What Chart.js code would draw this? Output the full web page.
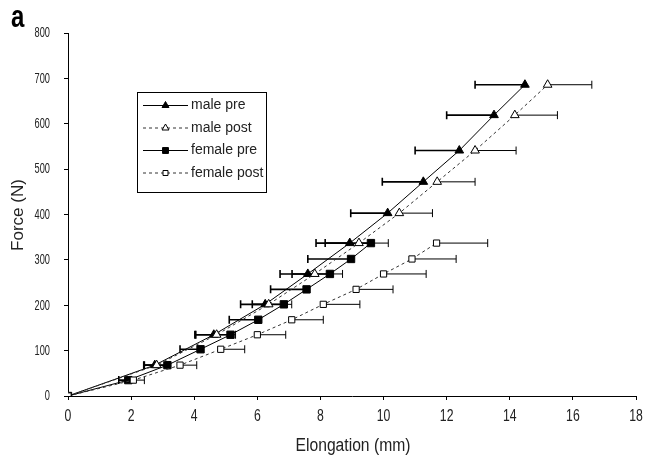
<!DOCTYPE html>
<html><head><meta charset="utf-8">
<script src="https://cdn.jsdelivr.net/npm/chart.js@4.4.0/dist/chart.umd.min.js"></script>
<style>html,body{margin:0;padding:0;background:#fff;}#wrap{width:650px;height:462px;}</style>
</head><body><div id="wrap"><canvas id="c" width="650" height="462"></canvas></div>
<script>
// ---- data ----
const xTicks = [0, 2, 4, 6, 8, 10, 12, 14, 16, 18];
const yTicks = [0, 100, 200, 300, 400, 500, 600, 700, 800];
const seriesNames = ["male pre", "male post", "female pre", "female post"];
const maleForce = [0, 68, 135, 202, 269, 337, 403, 472, 541, 619, 686];
const malePreElong = [0, 2.75, 4.62, 6.25, 7.6, 8.93, 10.13, 11.26, 12.4, 13.5, 14.48];
const malePreSD = [0, 0.35, 0.6, 0.78, 0.88, 1.07, 1.17, 1.3, 1.4, 1.5, 1.58];
const malePostElong = [0, 2.81, 4.71, 6.36, 7.82, 9.22, 10.5, 11.7, 12.9, 14.16, 15.2];
const malePostSD = [0, 0.4, 0.6, 0.73, 0.88, 0.93, 1.05, 1.2, 1.3, 1.35, 1.4];
const femaleForce = [0, 35, 68, 103, 135, 168, 202, 235, 269, 302, 337];
const femalePreElong = [0, 1.91, 3.15, 4.2, 5.15, 6.03, 6.84, 7.56, 8.3, 8.97, 9.6];
const femalePreSD = [0, 0.3, 0.73, 0.65, 1.1, 0.92, 1.0, 1.14, 1.2, 1.37, 1.45];
const femalePostElong = [0, 2.07, 3.55, 4.84, 6.0, 7.09, 8.09, 9.13, 10.0, 10.9, 11.68];
const femalePostSD = [0, 0.35, 0.53, 0.76, 0.9, 1.0, 1.16, 1.17, 1.35, 1.4, 1.62];

const FONT = "'Liberation Sans', Arial, sans-serif";

function pts(xs, ys) { return xs.map((v, i) => ({ x: v, y: ys[i] })); }

const datasets = [
  { label: seriesNames[0], data: pts(malePreElong, maleForce), sd: malePreSD, dir: -1,
    borderColor: '#000', borderWidth: 1, pointStyle: 'triangle', pointRadius: 5,
    pointBackgroundColor: '#000', pointBorderColor: '#000', pointBorderWidth: 1, order: 4, capW: 1.6 },
  { label: seriesNames[1], data: pts(malePostElong, maleForce), sd: malePostSD, dir: 1,
    borderColor: '#333', borderWidth: 1, borderDash: [3, 3], pointStyle: 'triangle', pointRadius: 5,
    pointBackgroundColor: '#fff', pointBorderColor: '#000', pointBorderWidth: 1, order: 2, capW: 1 },
  { label: seriesNames[2], data: pts(femalePreElong, femaleForce), sd: femalePreSD, dir: -1,
    borderColor: '#000', borderWidth: 1, pointStyle: 'rect', pointRadius: 5.2,
    pointBackgroundColor: '#000', pointBorderColor: '#000', pointBorderWidth: 1, order: 3, capW: 1.6 },
  { label: seriesNames[3], data: pts(femalePostElong, femaleForce), sd: femalePostSD, dir: 1,
    borderColor: '#333', borderWidth: 1, borderDash: [3, 3], pointStyle: 'rect', pointRadius: 4.4,
    pointBackgroundColor: '#fff', pointBorderColor: '#000', pointBorderWidth: 1, order: 1, capW: 1 }
];
datasets.forEach(d => { d.showLine = true; d.tension = 0; d.fill = false; });

const errorBars = {
  id: 'errorBars',
  beforeDatasetsDraw(chart) {
    const ctx = chart.ctx, xs = chart.scales.x, ys = chart.scales.y;
    ctx.save();
    chart.data.datasets.forEach(d => {
      ctx.strokeStyle = '#000';
      ctx.lineWidth = d.capW;
      d.data.forEach((p, i) => {
        const s = d.sd[i];
        if (!s) return;
        const x0 = xs.getPixelForValue(p.x), x1 = xs.getPixelForValue(p.x + d.dir * s);
        const y = ys.getPixelForValue(p.y);
        ctx.beginPath();
        ctx.moveTo(x0, y); ctx.lineTo(x1, y);
        ctx.moveTo(x1, y - 4); ctx.lineTo(x1, y + 4);
        ctx.stroke();
      });
    });
    ctx.restore();
  }
};

// axis tick labels, drawn at the library's tick positions in a condensed style
const tickLabels = {
  id: 'tickLabels',
  afterDraw(chart) {
    const ctx = chart.ctx, xs = chart.scales.x, ys = chart.scales.y;
    ctx.save();
    ctx.fillStyle = '#222';
    ctx.textBaseline = 'middle';
    ctx.font = "17px " + FONT;
    ctx.textAlign = 'center';
    xs.ticks.forEach(t => {
      const px = xs.getPixelForValue(t.value);
      ctx.save(); ctx.translate(px, xs.top + 20.5); ctx.scale(0.72, 1);
      ctx.fillText(String(t.value), 0, 0); ctx.restore();
    });
    ctx.font = "14px " + FONT;
    ctx.textAlign = 'right';
    ys.ticks.forEach(t => {
      const py = ys.getPixelForValue(t.value);
      ctx.save(); ctx.translate(ys.right - 18, py + 0.5); ctx.scale(0.66, 1);
      ctx.fillText(String(t.value), 0, 0); ctx.restore();
    });
    ctx.restore();
  }
};

const decor = {
  id: 'decor',
  afterDraw(chart) {
    const ctx = chart.ctx;
    ctx.save();
    ctx.fillStyle = '#000';
    ctx.font = "bold 32px " + FONT;
    ctx.textBaseline = 'alphabetic';
    ctx.save(); ctx.translate(11, 27); ctx.scale(0.75, 1); ctx.fillText('a', 0, 0); ctx.restore();
    ctx.fillStyle = '#222';
    ctx.font = "18px " + FONT;
    ctx.textAlign = 'center';
    ctx.textBaseline = 'middle';
    ctx.save(); ctx.translate(353, 446); ctx.scale(0.87, 1);
    ctx.fillText('Elongation (mm)', 0, 0); ctx.restore();
    ctx.font = "17px " + FONT;
    ctx.save();
    ctx.translate(18, 215);
    ctx.rotate(-Math.PI / 2);
    ctx.fillText('Force (N)', 0, 0);
    ctx.restore();
    // legend
    const bx = 137.5, by = 92.5, bw = 129, bh = 100;
    ctx.strokeStyle = '#000'; ctx.lineWidth = 1;
    ctx.strokeRect(bx, by, bw, bh);
    const rows = [105.5, 128, 150.5, 173];
    ctx.font = "14px " + FONT;
    ctx.textAlign = 'left';
    chart.data.datasets.forEach((d, i) => {
      const y = rows[i];
      ctx.save();
      ctx.strokeStyle = d.borderColor; ctx.lineWidth = 1;
      ctx.setLineDash(d.borderDash || []);
      ctx.beginPath(); ctx.moveTo(143, y); ctx.lineTo(188, y); ctx.stroke();
      ctx.restore();
      ctx.save();
      ctx.fillStyle = d.pointBackgroundColor; ctx.strokeStyle = '#000'; ctx.lineWidth = 1;
      Chart.helpers.drawPoint(ctx, {
        pointStyle: d.pointStyle, radius: d.pointRadius * 0.8, borderWidth: 1, rotation: 0
      }, 165.5, y);
      ctx.restore();
      ctx.fillStyle = '#222';
      ctx.fillText(d.label, 191, y);
    });
    ctx.restore();
  }
};

new Chart(document.getElementById('c'), {
  type: 'scatter',
  data: { datasets },
  options: {
    responsive: false, animation: false, devicePixelRatio: 1,
    layout: { padding: { left: 0, right: 14, top: 33, bottom: 0 } },
    plugins: { legend: { display: false }, tooltip: { enabled: false } },
    scales: {
      x: {
        type: 'linear', min: 0, max: 18,
        afterBuildTicks: s => { s.ticks = xTicks.map(v => ({ value: v })); },
        afterFit: s => { s.height = 66; },
        ticks: { display: false },
        grid: { drawOnChartArea: false, drawTicks: true, tickLength: 4, color: '#000' },
        border: { color: '#000', width: 1 }
      },
      y: {
        type: 'linear', min: 0, max: 800,
        afterBuildTicks: s => { s.ticks = yTicks.map(v => ({ value: v })); },
        afterFit: s => { s.width = 68; },
        ticks: { display: false },
        grid: { drawOnChartArea: false, drawTicks: true, tickLength: 4, color: '#000' },
        border: { color: '#000', width: 1 }
      }
    }
  },
  plugins: [errorBars, tickLabels, decor]
});
</script></body></html>
